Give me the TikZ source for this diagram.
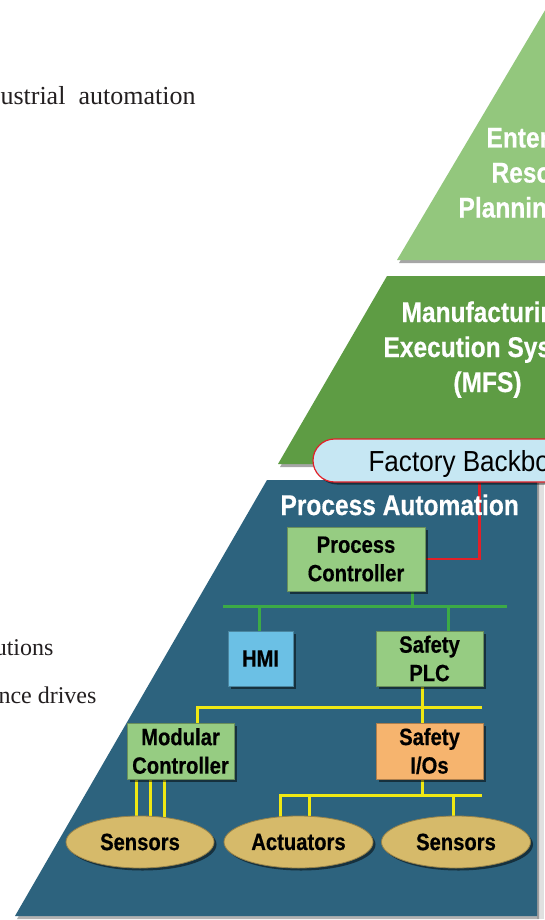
\documentclass[tikz,border=0pt]{standalone}
\usepackage{fontspec}
\setmainfont{Liberation Serif}
\newfontfamily\cnfont{Liberation Sans}[FakeStretch=0.9]
\newfontfamily\cnbfont{Liberation Sans}[FakeStretch=0.86,FakeBold=0.5]
\usetikzlibrary{shapes.geometric,shadows}
\pgfdeclarelayer{back}
\pgfdeclarelayer{wires}
\pgfsetlayers{back,wires,main}
\definecolor{erpc}{RGB}{147,199,125}
\definecolor{mesc}{RGB}{94,156,68}
\definecolor{panelc}{RGB}{45,99,126}
\definecolor{boxg}{RGB}{150,204,130}
\definecolor{hmic}{RGB}{107,192,229}
\definecolor{sioc}{RGB}{246,180,110}
\definecolor{tanc}{RGB}{214,186,106}
\definecolor{pillc}{RGB}{198,231,243}
\definecolor{redc}{RGB}{226,32,40}
\definecolor{greenw}{RGB}{60,170,70}
\definecolor{yelw}{RGB}{240,232,20}
\definecolor{txtgray}{RGB}{35,31,32}
\tikzset{
  shadowed/.style={drop shadow={shadow xshift=2.5pt,shadow yshift=-2.5pt,opacity=0.5,fill=black}},
  layershadow/.style={drop shadow={shadow xshift=2pt,shadow yshift=-3pt,opacity=0.35,fill=black}},
  boxtext/.style={font=\cnbfont\bfseries\fontsize{23.5}{28.5}\selectfont, text=black, align=center},
  bigw/.style={font=\cnbfont\bfseries\fontsize{28.5}{35}\selectfont, text=white},
  serif/.style={font=\fontsize{#1}{30}\selectfont, text=txtgray},
  pbox/.style={rectangle, boxtext, inner sep=0pt, fill=#1, draw=#1!70!black, line width=0.8pt, shadowed},
  ell/.style={ellipse, boxtext, inner sep=0pt, fill=tanc, draw=tanc!70!black, line width=0.8pt, shadowed, minimum width=149pt, minimum height=52pt},
  pillst/.style={rectangle, rounded corners=21.5pt, fill=pillc, draw=redc, line width=1.2pt, minimum width=387pt, minimum height=43pt, inner sep=0pt, shadowed},
  gwire/.style={draw=greenw, line width=3pt},
  ywire/.style={draw=yelw, line width=3pt},
  rwire/.style={draw=redc, line width=2.5pt},
}
\begin{document}
\begin{tikzpicture}[x=1pt,y=-1pt]
\useasboundingbox (0,0) rectangle (544,920);
\begin{pgfonlayer}{back}
  \fill[white] (0,0) rectangle (544,920);
  \fill[erpc, layershadow] (397,260) -- (557,-10) -- (720,260) -- cycle;
  \fill[mesc, layershadow] (387,276) -- (700,276) -- (800,464) -- (278,464) -- cycle;
  \fill[black!12] (537,484) rectangle (544,919);
  \fill[panelc, drop shadow={shadow xshift=2pt,shadow yshift=-3pt,opacity=0.3,fill=black}] (267,480) -- (537,480) -- (537,916) -- (15,916) -- cycle;
\end{pgfonlayer}

% left body text
\node[serif=26, anchor=base east] (t1) at (199,105) {ustrial\hspace{13pt}automation};
\node[serif=24, anchor=base east] (t2) at (57,655) {utions};
\node[serif=24, anchor=base east] (t3) at (100,703) {nce drives};

% layer titles
\node[bigw, anchor=base west] (erp1) at (483,147.5) {Enterprise};
\node[bigw, anchor=base west] (erp2) at (488,182.5) {Resource};
\node[bigw, anchor=base west] (erp3) at (455,217.5) {Planning};
\node[bigw, anchor=base west] (mes1) at (398,322) {Manufacturing};
\node[bigw, anchor=base west] (mes2) at (380,357) {Execution Systems};
\node[bigw, anchor=base] (mes3) at (487.5,392) {(MFS)};

% factory backbone
\node[pillst] (fb) at (506.5,460.5) {};
\node[font=\cnfont\fontsize{29}{34}\selectfont, text=black, anchor=base west] (fbt) at (365,471.7) {Factory Backbone};

\node[bigw, anchor=base west] (pa) at (277,515) {Process Automation};

% devices
\node[pbox=boxg, minimum width=138pt, minimum height=64pt] (pc) at (356,559) {Process\\Controller};
\node[pbox=hmic, minimum width=65pt, minimum height=55pt] (hmi) at (260.5,658.5) {HMI};
\node[pbox=boxg, minimum width=107pt, minimum height=55pt] (splc) at (429.5,658.5) {Safety\\PLC};
\node[pbox=boxg, minimum width=107pt, minimum height=56pt] (mod) at (180.5,751) {Modular\\Controller};
\node[pbox=sioc, minimum width=107pt, minimum height=56pt] (sio) at (429.5,751) {Safety\\I/Os};
\node[ell, minimum width=148pt] (s1) at (140,842) {Sensors};
\node[ell] (act) at (298.5,842) {Actuators};
\node[ell] (s2) at (456,842) {Sensors};

\begin{pgfonlayer}{wires}
  % red link to backbone
  \draw[rwire] (pc.east) -| ([xshift=167pt]fb.south west);
  % green bus
  \coordinate (busL) at (223,606);
  \coordinate (busR) at (507,606);
  \draw[gwire] (busL) -- (busR);
  \draw[gwire] ([xshift=-13pt]pc.south east) -- ([xshift=-13pt]pc.south east |- busL);
  \draw[gwire] ([xshift=-1.5pt]hmi.north) -- ([xshift=-1.5pt]hmi.north |- busL);
  \draw[gwire] ([xshift=18.5pt]splc.north) -- ([xshift=18.5pt]splc.north |- busL);
  % yellow bus 1
  \coordinate (y1R) at (482,707);
  \coordinate (y1L) at (197,707);
  \draw[ywire] (y1R) -- (y1L) -- (y1L |- mod.north);
  \draw[ywire] ([xshift=-7.5pt]splc.south) -- ([xshift=-7.5pt]sio.north);
  \draw[ywire] ([xshift=10pt]mod.south west) -- ([xshift=10pt]mod.south west |- s1.center);
  \draw[ywire] ([xshift=24pt]mod.south west) -- ([xshift=24pt]mod.south west |- s1.center);
  \draw[ywire] ([xshift=38pt]mod.south west) -- ([xshift=38pt]mod.south west |- s1.center);
  % yellow bus 2
  \coordinate (y2R) at (482,795);
  \coordinate (y2L) at (280,795);
  \coordinate (y2M) at (309,795);
  \coordinate (y2S) at (453,795);
  \draw[ywire] ([xshift=-7.5pt]sio.south) -- ([xshift=-7.5pt]sio.south |- y2R);
  \draw[ywire] (y2R) -- (y2L) -- (y2L |- act.center);
  \draw[ywire] (y2M) -- (y2M |- act.center);
  \draw[ywire] (y2S) -- (y2S |- s2.center);
\end{pgfonlayer}
\end{tikzpicture}
\end{document}
